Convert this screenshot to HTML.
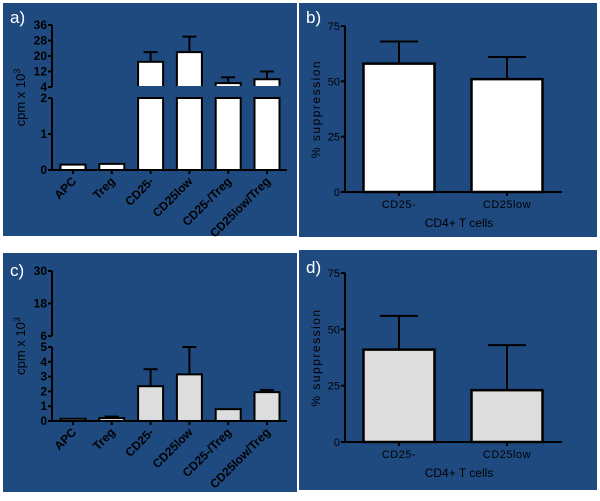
<!DOCTYPE html>
<html><head><meta charset="utf-8"><style>
body{margin:0;background:#fff;width:600px;height:501px;overflow:hidden}
svg{display:block;font-family:"Liberation Sans",Arial,sans-serif}
</style></head><body>
<svg id="s" width="600" height="501">
<rect x="3" y="3" width="294" height="233" fill="#1f4a80"/>
<rect x="299" y="3" width="298" height="234" fill="#1f4a80"/>
<rect x="3" y="253" width="294" height="239" fill="#1f4a80"/>
<rect x="299" y="250" width="298" height="240" fill="#1f4a80"/>
</svg>
<script>
const catsAC=["APC","Treg","CD25-","CD25low","CD25-/Treg","CD25low/Treg"];
const valsA=[0.15,0.17,17,22,6,8];
const errA=[0,0,22,30,9,12];
const valsC=[0.15,0.2,2.35,3.15,0.8,1.95];
const errC=[0,0.3,3.5,5,0,2.1];
const ticksAlo=[0,1,2];const ticksAhi=[4,12,20,28,36];
const ticksClo=[0,1,2,3,4,5];const ticksChi=[6,18,30];
const catsBD=["CD25-","CD25low"];
const valsB=[58,51];const errB=[68,61];
const valsD=[41,23];const errD=[56,43];
const ticksBD=[0,25,50,75];
const S=document.getElementById('s');const NS="http://www.w3.org/2000/svg";
function mk(t,a,txt){const e=document.createElementNS(NS,t);for(const k in a)e.setAttribute(k,a[k]);if(txt!==undefined)e.textContent=txt;S.appendChild(e);return e;}
function line(x1,y1,x2,y2,w){return mk('line',{x1,y1,x2,y2,stroke:'#000','stroke-width':w||2});}
function label(x,y,t,nm){const e=mk('text',{x,y,'font-size':17,fill:'#fff'},t);}
function broken(p){
 const lo=v=>p.lo[2]-(v-p.lo[0])/(p.lo[1]-p.lo[0])*(p.lo[2]-p.lo[3]);
 const hi=v=>p.hi[2]-(v-p.hi[0])/(p.hi[1]-p.hi[0])*(p.hi[2]-p.hi[3]);
 const ax=p.ax;
 let a=line(ax,p.lo[2],ax,p.lo[3]);
 a=line(ax,p.hi[2],ax,p.hi[3]);
 a=line(ax,p.lo[2],287,p.lo[2]);
 p.tlo.forEach(v=>{line(ax-4,lo(v),ax,lo(v));const t=mk('text',{x:ax-5,y:lo(v)+4,'font-size':12,'font-weight':'bold','text-anchor':'end'},v);});
 p.thi.forEach(v=>{line(ax-4,hi(v),ax,hi(v));const t=mk('text',{x:ax-5,y:hi(v)+4,'font-size':12,'font-weight':'bold','text-anchor':'end'},v);});
 const yl=mk('text',{x:0,y:0,'font-size':13,'text-anchor':'middle',transform:`translate(${ax-27},${(p.hi[3]+p.lo[2])/2}) rotate(-90)`});
 
 yl.innerHTML='cpm x 10<tspan dy="-5" font-size="9">3</tspan>';
 catsAC.forEach((c,i)=>{
  const cx=73+i*38.8,w=25,v=p.vals[i],er=p.err[i];
  if(v<=p.lo[1]){const r=mk('rect',{x:cx-w/2,y:lo(v),width:w,height:p.lo[2]-lo(v),fill:p.fill,stroke:'#000','stroke-width':2});}
  else{const r=mk('rect',{x:cx-w/2,y:p.lo[3],width:w,height:p.lo[2]-p.lo[3],fill:p.fill,stroke:'#000','stroke-width':2});
   const r2=mk('rect',{x:cx-w/2,y:hi(v),width:w,height:p.hi[2]-hi(v),fill:p.fill,stroke:'#000','stroke-width':2});
   mk('line',{x1:cx-w/2-1,y1:p.hi[2],x2:cx+w/2+1,y2:p.hi[2],stroke:'#1f4a80','stroke-width':2});}
  if(er>v){const f=er<=p.lo[1]?lo:hi;const fy=v<=p.lo[1]?lo(v):hi(v);line(cx,fy,cx,f(er));line(cx-7,f(er),cx+7,f(er));}
  line(cx,p.lo[2],cx,p.lo[2]+4);
  const t=mk('text',{x:0,y:0,'font-size':12,'font-weight':'bold','text-anchor':'end',transform:`translate(${cx+4},${p.lo[2]+12}) rotate(-45)`},c);
  
 });
}
broken({ax:52,lo:[0,2,170,98],hi:[4,36,87,25],tlo:ticksAlo,thi:ticksAhi,vals:valsA,err:errA,fill:'#fff'});
broken({ax:52,lo:[0,5,421,347],hi:[6,30,336,271],tlo:ticksClo,thi:ticksChi,vals:valsC,err:errC,fill:'#ddd'});
function simple(p){
 const y=v=>p.y0-v/75*(p.y0-p.y1);const ax=p.ax;
 let a=line(ax,p.y0,ax,p.y1);
 a=line(ax,p.y0,562,p.y0);
 ticksBD.forEach(v=>{line(ax-4,y(v),ax,y(v));const t=mk('text',{x:ax-5,y:y(v)+4,'font-size':11,'text-anchor':'end'},v);});
 catsBD.forEach((c,i)=>{const cx=399+i*108,w=71;
  if(p.err[i]>p.vals[i]){line(cx,y(p.vals[i]),cx,y(p.err[i]));line(cx-19,y(p.err[i]),cx+19,y(p.err[i]));}
  const r=mk('rect',{x:cx-w/2,y:y(p.vals[i]),width:w,height:p.y0-y(p.vals[i]),fill:p.fill,stroke:'#000','stroke-width':2.5});
  line(cx,p.y0,cx,p.y0+4);
  const t=mk('text',{x:cx,y:p.y0+16,'font-size':11,'text-anchor':'middle','letter-spacing':'0.5'},c);});
 const xt=mk('text',{x:459,y:p.y0+35,'font-size':12,'text-anchor':'middle'},'CD4+ T cells');
 const yt=mk('text',{x:0,y:0,'font-size':12,'text-anchor':'middle','letter-spacing':'1.5',transform:`translate(320,${(p.y0+p.y1)/2}) rotate(-90)`},'% suppression');
}
simple({ax:345,y0:192,y1:26,vals:valsB,err:errB,fill:'#fff'});
simple({ax:345,y0:442,y1:273,vals:valsD,err:errD,fill:'#ddd'});
label(10,23,'a)','panel-a-label');label(306,23,'b)','panel-b-label');label(10,276,'c)','panel-c-label');label(306,273,'d)','panel-d-label');
</script>
</body></html>
